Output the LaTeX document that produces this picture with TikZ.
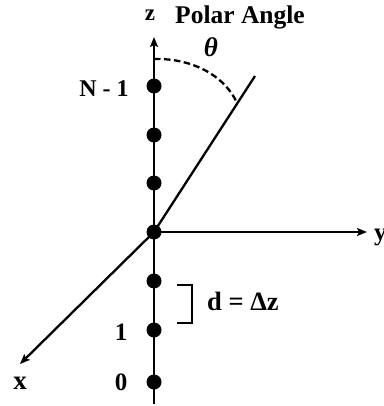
\documentclass[tikz,border=0pt]{standalone}
\usepackage{fontspec}
\setmainfont{Liberation Serif}
\usetikzlibrary{arrows.meta}
\begin{document}
\begin{tikzpicture}[x=1pt,y=-1pt,
  axis/.style={line width=2.3pt},
  arr/.style={-{Stealth[length=10pt,width=8pt,inset=2pt]}},
  dot/.style={circle,fill=black,inner sep=0pt,minimum size=15pt},
  lab/.style={font=\fontsize{25}{29}\selectfont\bfseries,inner sep=0pt}]
\useasboundingbox (0,0) rectangle (383,406);
% axis end points
\coordinate (ztop) at (154,37);
\coordinate (zbot) at (154,404);
\coordinate (ytip) at (367,232);
\coordinate (xtip) at (20,364);
\coordinate (ptop) at (255,76);
\coordinate (o) at (154,232);
% lines
\draw[axis,arr] (zbot) -- (ztop);
\draw[axis,arr] (o) -- (ytip);
\draw[axis,arr] (o) -- (xtip);
\draw[axis] (o) -- (ptop);
% dashed polar angle
\coordinate (arcA) at (154,59);
\coordinate (arcB) at (237,103);
\draw[axis,dash pattern=on 6.5pt off 3.5pt] (arcA) .. controls (195,58) and (226,78) .. (arcB);
% dots
\node[dot] (n6) at (154,86) {};
\node[dot] (n5) at (154,135) {};
\node[dot] (n4) at (154,183) {};
\node[dot] (n3) at (154,232) {};
\node[dot] (n2) at (154,281) {};
\node[dot] (n1) at (154,330) {};
\node[dot] (n0) at (154,382) {};
% bracket
\coordinate (bA) at (177,285);
\coordinate (bB) at (192,285);
\coordinate (bC) at (192,323);
\coordinate (bD) at (177,323);
\draw[line width=2.3pt] (bA) -- (bB) -- (bC) -- (bD);
% labels
\node[lab,font=\fontsize{23}{27}\selectfont\bfseries,anchor=base] (lz) at (150,21) {z};
\node[lab,font=\fontsize{25.5}{29}\selectfont\bfseries,anchor=base] (lpa) at (240,23.5) {Polar Angle};
\node[lab,font=\fontsize{27}{30}\selectfont\bfseries\itshape,anchor=base] (lth) at (211,57) {θ};
\node[lab,font=\fontsize{24}{28}\selectfont\bfseries,anchor=base] (lN) at (104,97) {N - 1};
\node[lab,anchor=base] (l1) at (121,340) {1};
\node[lab,anchor=base] (l0) at (121,390) {0};
\node[lab,font=\fontsize{27}{30}\selectfont\bfseries,anchor=base] (lx) at (20,389) {x};
\node[lab,anchor=base west] (ly) at (374,240) {y};
\node[lab,font=\fontsize{26.5}{30}\selectfont\bfseries,anchor=base west] (ld) at (207,310) {d = Δz};
\end{tikzpicture}
\end{document}
